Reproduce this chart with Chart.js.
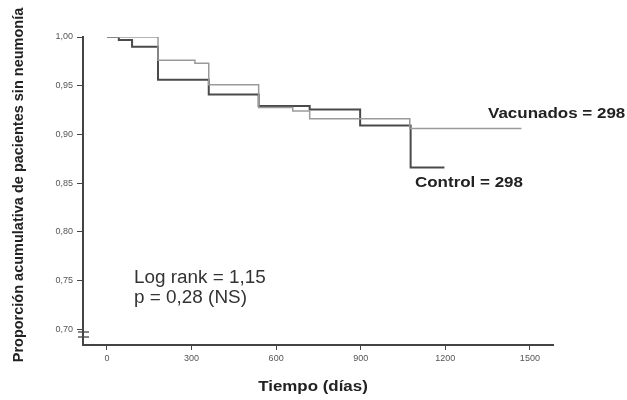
<!DOCTYPE html>
<html>
<head>
<meta charset="utf-8">
<script src="https://cdn.jsdelivr.net/npm/chart.js@4.4.1/dist/chart.umd.min.js"></script>
<style>
  html, body { margin: 0; padding: 0; background: #fff; }
  #wrap { width: 627px; height: 400px; position: relative; }
</style>
</head>
<body>
<div id="wrap"><canvas id="km"></canvas></div>
<script>
// Curvas de Kaplan-Meier (días, proporción sin neumonía)
const controlDays = [0, 42, 89, 181, 361, 538, 719, 898, 1077, 1197];
const controlSurv = [1.000, 0.997, 0.990, 0.956, 0.941, 0.929, 0.9255, 0.909, 0.866, 0.866];

const vacDays = [0, 181, 312, 361, 538, 659, 719, 1074, 1470];
const vacSurv = [1.000, 0.976, 0.973, 0.951, 0.9275, 0.924, 0.916, 0.906, 0.906];

const xTicks = [0, 300, 600, 900, 1200, 1500];
const yTicks = [0.70, 0.75, 0.80, 0.85, 0.90, 0.95, 1.00];

const toPoints = (xs, ys) => xs.map((x, i) => ({ x: x, y: ys[i] }));

// texto algo ensanchado, como en la figura original
function wideText(ctx, txt, x, y, sx, align) {
  ctx.save();
  ctx.translate(x, y);
  ctx.scale(sx, 1);
  ctx.textAlign = align;
  ctx.fillText(txt, 0, 0);
  ctx.restore();
}

const labelsPlugin = {
  id: 'labels',
  afterDraw(chart) {
    const ctx = chart.ctx;
    ctx.save();

    // marca de corte del eje Y
    ctx.strokeStyle = '#444';
    ctx.lineWidth = 1.3;
    const ax = chart.chartArea.left;
    [332, 337].forEach(py => {
      ctx.beginPath();
      ctx.moveTo(ax - 5, py);
      ctx.lineTo(ax + 6, py);
      ctx.stroke();
    });

    ctx.fillStyle = '#222';
    ctx.textBaseline = 'alphabetic';
    ctx.font = 'bold 15.5px "Liberation Sans", Arial, sans-serif';
    wideText(ctx, 'Vacunados = 298', 488, 118, 1.095, 'left');
    wideText(ctx, 'Control = 298', 415, 187, 1.095, 'left');
    wideText(ctx, 'Tiempo (días)', 313, 391, 1.09, 'center');

    // título del eje Y
    ctx.save();
    ctx.translate(23, 185);
    ctx.rotate(-Math.PI / 2);
    ctx.textAlign = 'center';
    ctx.font = 'bold 14.5px "Liberation Sans", Arial, sans-serif';
    ctx.fillText('Proporción acumulativa de pacientes sin neumonía', 0, 0);
    ctx.restore();

    ctx.fillStyle = '#333';
    ctx.font = '18px "Liberation Sans", Arial, sans-serif';
    wideText(ctx, 'Log rank = 1,15', 134, 283, 1.05, 'left');
    wideText(ctx, 'p = 0,28 (NS)', 134, 303, 1.05, 'left');

    ctx.restore();
  }
};

new Chart(document.getElementById('km'), {
  type: 'line',
  data: {
    datasets: [
      {
        label: 'Vacunados',
        data: toPoints(vacDays, vacSurv),
        borderColor: '#9a9a9a',
        borderWidth: 1.5,
        stepped: 'before',
        pointRadius: 0,
        fill: false
      },
      {
        label: 'Control',
        data: toPoints(controlDays, controlSurv),
        borderColor: '#4a4a4a',
        borderWidth: 2,
        stepped: 'before',
        pointRadius: 0,
        fill: false
      }
    ]
  },
  options: {
    responsive: true,
    maintainAspectRatio: false,
    animation: false,
    layout: { padding: { left: 0, top: 37, right: 74, bottom: 0 } },
    plugins: {
      legend: { display: false },
      tooltip: { enabled: false }
    },
    scales: {
      x: {
        type: 'linear',
        min: -85,
        max: 1582,
        afterBuildTicks: s => { s.ticks = xTicks.map(v => ({ value: v })); },
        afterFit: s => { s.height = 55; },
        border: { display: true, color: '#444', width: 2 },
        grid: { drawOnChartArea: false, drawTicks: true, tickLength: 5, color: '#444', lineWidth: 1 },
        ticks: {
          padding: 3,
          color: '#555',
          font: { family: '"Liberation Sans", Arial, sans-serif', size: 9 },
          callback: v => String(v)
        }
      },
      y: {
        type: 'linear',
        min: 0.6836,
        max: 1.0,
        afterBuildTicks: s => { s.ticks = yTicks.map(v => ({ value: v })); },
        afterFit: s => { s.width = 83; },
        border: { display: true, color: '#444', width: 2 },
        grid: { drawOnChartArea: false, drawTicks: true, tickLength: 6, color: '#444', lineWidth: 1 },
        ticks: {
          padding: 4,
          color: '#555',
          font: { family: '"Liberation Sans", Arial, sans-serif', size: 9 },
          callback: v => v.toFixed(2).replace('.', ',')
        }
      }
    }
  },
  plugins: [labelsPlugin]
});
</script>
</body>
</html>
